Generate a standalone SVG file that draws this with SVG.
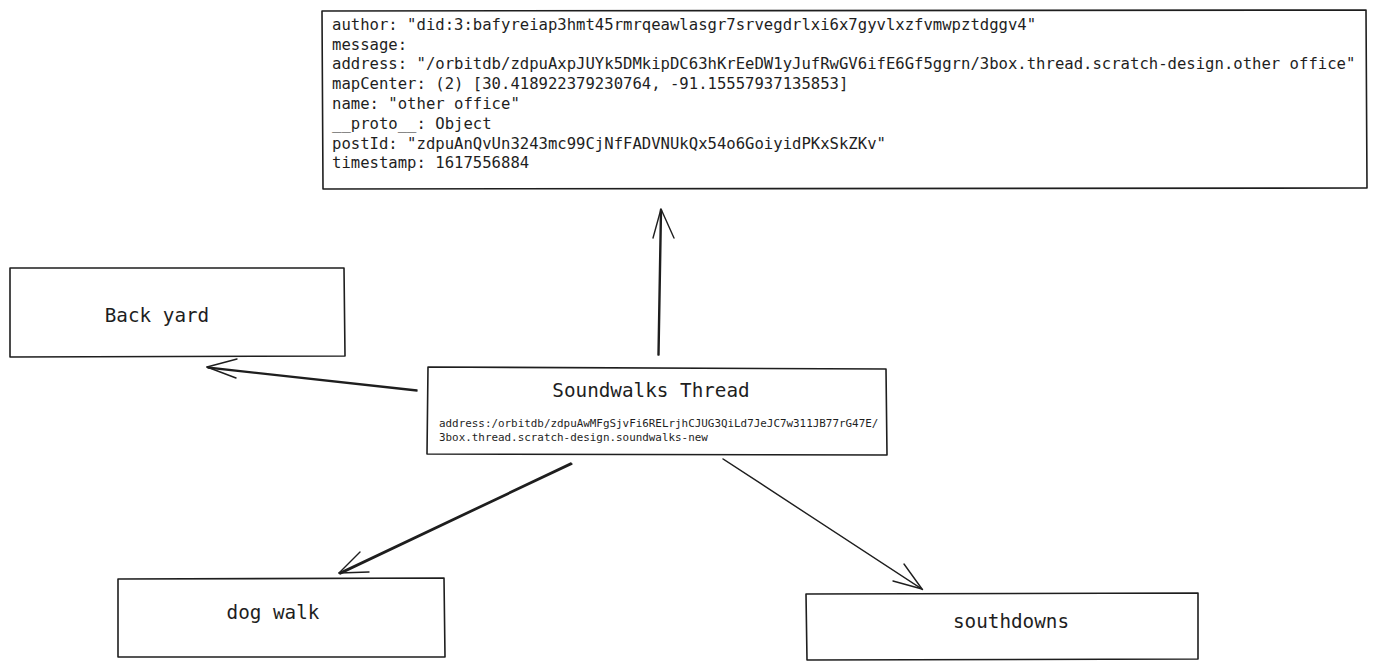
<svg xmlns="http://www.w3.org/2000/svg" width="1377" height="670" viewBox="0 0 1377 670">
<style>
.box{fill:#ffffff;stroke:#1e1e1e;stroke-width:1.6;stroke-linejoin:round}
.edge{fill:none;stroke:#1e1e1e;stroke-width:1.4;stroke-linecap:round}
text{font-family:"DejaVu Sans Mono","Liberation Mono",monospace;fill:#1e1e1e}
.lbl{font-size:19.3px;text-anchor:middle}
.code{font-size:15.6px}
.small{font-size:10.9px}
</style>
<rect width="1377" height="670" fill="#ffffff"/>
<g id="connectors">
  <path class="edge" d="M658 355 L660.5 209.5 M659 355 L661.5 210"/>
  <path class="edge" d="M661 209 L653 238 M661 209 L674 238"/>
  <path class="edge" d="M417 390 L207 367 M417 391 L208 368"/>
  <path class="edge" d="M207 367 L237 359 M207 367 L236 378"/>
  <path class="edge" d="M571 463 L339 573 M572 464 L340 574"/>
  <path class="edge" d="M339 573 L360 552 M339 573 L369 572"/>
  <path class="edge" d="M723 459 L922 589 M724 459.5 L922.5 589.5"/>
  <path class="edge" d="M922 589 L904 564 M922 589 L893 581"/>
</g>
<g id="node-message">
  <path class="box" d="M322 11 L1366 10 L1367 188 L323 189 Z"/>
  <text class="code" x="332" y="29.5">author: "did:3:bafyreiap3hmt45rmrqeawlasgr7srvegdrlxi6x7gyvlxzfvmwpztdggv4"</text>
  <text class="code" x="332" y="49.5">message:</text>
  <text class="code" x="332" y="69">address: "/orbitdb/zdpuAxpJUYk5DMkipDC63hKrEeDW1yJufRwGV6ifE6Gf5ggrn/3box.thread.scratch-design.other office"</text>
  <text class="code" x="332" y="89">mapCenter: (2) [30.418922379230764, -91.15557937135853]</text>
  <text class="code" x="332" y="108.5">name: "other office"</text>
  <text class="code" x="332" y="128.5">__proto__: Object</text>
  <text class="code" x="332" y="148.5">postId: "zdpuAnQvUn3243mc99CjNfFADVNUkQx54o6GoiyidPKxSkZKv"</text>
  <text class="code" x="332" y="168">timestamp: 1617556884</text>
</g>
<g id="node-thread">
  <path class="box" d="M428 367 L886 369 L887 455 L427 454 Z"/>
  <text class="lbl" x="651" y="397">Soundwalks Thread</text>
  <text class="small" x="439" y="427">address:/orbitdb/zdpuAwMFgSjvFi6RELrjhCJUG3QiLd7JeJC7w311JB77rG47E/</text>
  <text class="small" x="439" y="441">3box.thread.scratch-design.soundwalks-new</text>
</g>
<g id="node-backyard">
  <path class="box" d="M10 268 L344 268 L345 356 L10 357 Z"/>
  <text class="lbl" x="157" y="322">Back yard</text>
</g>
<g id="node-dogwalk">
  <path class="box" d="M118 579 L444 578 L445 657 L118 657 Z"/>
  <text class="lbl" x="273" y="619">dog walk</text>
</g>
<g id="node-southdowns">
  <path class="box" d="M806 594 L1198 593 L1198 659 L807 660 Z"/>
  <text class="lbl" x="1011" y="628">southdowns</text>
</g>
</svg>
